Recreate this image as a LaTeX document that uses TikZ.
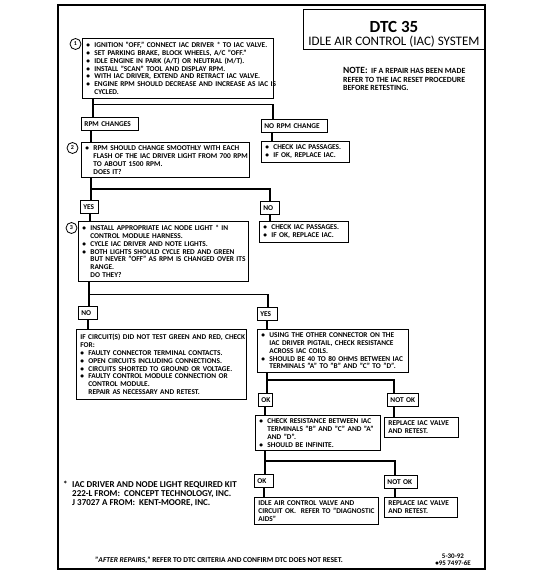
\documentclass[tikz,border=0pt]{standalone}
\usepackage{fontspec}
\setmainfont{Carlito}
\newcommand{\blt}{\makebox[8pt][l]{\textbullet}}
\newcommand{\hng}{\hspace*{8pt}}
\newcommand{\kitmark}{\raisebox{0.5pt}{*}}

\begin{document}
\begin{tikzpicture}[x=1pt, y=-1pt,
    every node/.style={font=\bfseries\fontsize{7.35}{7.8}\selectfont},
    stepbox/.style={draw, line width=0.8pt, fill=white, anchor=north west,
        inner xsep=4pt, inner ysep=3.5pt, text width=#1, align=left,
        execute at begin node={\rightskip=0pt plus 1fil minus 60pt}},
    tag/.style={draw, line width=0.8pt, fill=white, anchor=north west,
        inner xsep=3pt, inner ysep=0pt, minimum height=13pt, text width=#1, align=left,
        execute at begin node={\rightskip=0pt plus 1fil minus 60pt}},
    num/.style={draw, circle, line width=0.8pt, fill=white, inner sep=0pt,
        minimum size=11pt, font=\bfseries\fontsize{6}{6}\selectfont},
    link/.style={line width=1.8pt}]
    \useasboundingbox (0,0) rectangle (552,577);
    % Frame and title
    \draw[line width=1.1pt] (58,5) rectangle (485,569);
    \draw[line width=0.9pt] (303,9) rectangle (485,49);
    \node[font=\bfseries\fontsize{17}{17}\selectfont] (dtc) at (394,27) {DTC 35};
    \node[font=\fontsize{13}{13}\selectfont] (sys) at (394,42) {IDLE AIR CONTROL (IAC) SYSTEM};
    % Note
    \node[anchor=north west, inner sep=0pt, align=left, font=\bfseries\fontsize{7.9}{8.5}\selectfont] (note) at (343,67.5)
        {{\fontsize{9.5}{9}\selectfont NOTE:}\ \ IF A REPAIR HAS BEEN MADE\\
         REFER TO THE IAC RESET PROCEDURE\\
         BEFORE RETESTING.};
    % Step 1
    \node[stepbox=183] (s1) at (82,38)
        {\blt IGNITION "OFF," CONNECT IAC DRIVER \kitmark\ TO IAC VALVE.\\
         \blt SET PARKING BRAKE, BLOCK WHEELS, A/C "OFF."\\
         \blt IDLE ENGINE IN PARK (A/T) OR NEUTRAL (M/T).\\
         \blt INSTALL "SCAN" TOOL AND DISPLAY RPM.\\
         \blt WITH IAC DRIVER, EXTEND AND RETRACT IAC VALVE.\\
         \blt ENGINE RPM SHOULD DECREASE AND INCREASE AS IAC IS\\
         \hng CYCLED.};
    \node[num] (n1) at (75.5,44) {1};
    \node[tag=51] (rpmch) at (81,117) {RPM CHANGES};
    \node[tag=60] (norpm) at (261,119) {NO RPM CHANGE};
    % Step 2
    \node[stepbox=160] (s2) at (81,142)
        {\blt RPM SHOULD CHANGE SMOOTHLY WITH EACH\\
         \hng FLASH OF THE IAC DRIVER LIGHT FROM 700 RPM\\
         \hng TO ABOUT 1500 RPM.\\
         \hng DOES IT?};
    \node[num] (n2) at (72.5,148) {2};
    \node[stepbox=80] (pass1) at (261,141)
        {\blt CHECK IAC PASSAGES.\\
         \blt IF OK, REPLACE IAC.};
    \node[tag=12] (yes1) at (80,200) {YES};
    \node[tag=13] (no1) at (260,201) {NO};
    % Step 3
    \node[stepbox=162] (s3) at (78,221)
        {\blt INSTALL APPROPRIATE IAC NODE LIGHT \kitmark\ IN\\
         \hng CONTROL MODULE HARNESS.\\
         \blt CYCLE IAC DRIVER AND NOTE LIGHTS.\\
         \blt BOTH LIGHTS SHOULD CYCLE RED AND GREEN\\
         \hng BUT NEVER "OFF" AS RPM IS CHANGED OVER ITS\\
         \hng RANGE.\\
         \hng DO THEY?};
    \node[num] (n3) at (71.5,228) {3};
    \node[stepbox=81] (pass2) at (259,221)
        {\blt CHECK IAC PASSAGES.\\
         \blt IF OK, REPLACE IAC.};
    \node[tag=13] (no2) at (78,306) {NO};
    \node[tag=14] (yes2) at (257,307) {YES};
    \node[stepbox=162, inner ysep=5pt] (fail) at (76,329)
        {IF CIRCUIT(S) DID NOT TEST GREEN AND RED, CHECK\\
         FOR:\\
         \blt FAULTY CONNECTOR TERMINAL CONTACTS.\\
         \blt OPEN CIRCUITS INCLUDING CONNECTIONS.\\
         \blt CIRCUITS SHORTED TO GROUND OR VOLTAGE.\\
         \blt FAULTY CONTROL MODULE CONNECTION OR\\
         \hng CONTROL MODULE.\\
         \hng REPAIR AS NECESSARY AND RETEST.};
    \node[stepbox=143] (coils) at (257,329)
        {\blt USING THE OTHER CONNECTOR ON THE\\
         \hng IAC DRIVER PIGTAIL, CHECK RESISTANCE\\
         \hng ACROSS IAC COILS.\\
         \blt SHOULD BE 40 TO 80 OHMS BETWEEN IAC\\
         \hng TERMINALS "A" TO "B" AND "C" TO "D".};
    \node[tag=8] (ok1) at (258,393) {OK};
    \node[tag=25] (notok1) at (387,393) {NOT OK};
    \node[stepbox=117] (infin) at (255,415)
        {\blt CHECK RESISTANCE BETWEEN IAC\\
         \hng TERMINALS "B" AND "C" AND "A"\\
         \hng AND "D".\\
         \blt SHOULD BE INFINITE.};
    \node[stepbox=66] (repl1) at (384,417)
        {REPLACE IAC VALVE\\ AND RETEST.};
    \node[tag=13] (ok2) at (254,474) {OK};
    \node[tag=27] (notok2) at (384,475) {NOT OK};
    \node[stepbox=116] (idle) at (254,497)
        {IDLE AIR CONTROL VALVE AND\\
         CIRCUIT OK.\ \ REFER TO "DIAGNOSTIC\\
         AIDS"};
    \node[stepbox=65] (repl2) at (384,497)
        {REPLACE IAC VALVE\\ AND RETEST.};
    % Connectors
    \coordinate (j1) at ([xshift=11pt, yshift=-6pt]s1.south west);
    \draw[link] ([xshift=11pt]s1.south west) -- ([xshift=11pt]s1.south west |- rpmch.north);
    \draw[link] (j1) -| ([xshift=12pt]norpm.north west);
    \draw[link] ([xshift=10pt]rpmch.south west) -- ([xshift=10pt]rpmch.south west |- s2.north);
    \draw[link] ([xshift=11pt]norpm.south west) -- ([xshift=11pt]norpm.south west |- pass1.north);
    \coordinate (j2) at ([xshift=10pt, yshift=-11pt]s2.south west);
    \draw[link] ([xshift=10pt]s2.south west) -- ([xshift=10pt]s2.south west |- yes1.north);
    \draw[link] (j2) -| ([xshift=10pt]no1.north west);
    \draw[link] ([xshift=10pt]yes1.south west) -- ([xshift=10pt]yes1.south west |- s3.north);
    \draw[link] ([xshift=10pt]no1.south west) -- ([xshift=10pt]no1.south west |- pass2.north);
    \coordinate (j3) at ([xshift=11pt, yshift=-13pt]s3.south west);
    \draw[link] ([xshift=11pt]s3.south west) -- ([xshift=11pt]s3.south west |- no2.north);
    \draw[link] (j3) -| ([xshift=11pt]yes2.north west);
    \draw[link] ([xshift=10pt]no2.south west) -- ([xshift=10pt]no2.south west |- fail.north);
    \draw[link] ([xshift=10pt]yes2.south west) -- ([xshift=10pt]yes2.south west |- coils.north);
    \coordinate (j4) at ([xshift=10pt, yshift=-7pt]coils.south west);
    \draw[link] ([xshift=10pt]coils.south west) -- ([xshift=10pt]coils.south west |- ok1.north);
    \draw[link] (j4) -| ([xshift=7pt]notok1.north west);
    \draw[link] ([xshift=7pt]ok1.south west) -- ([xshift=7pt]ok1.south west |- infin.north);
    \draw[link] ([xshift=7pt]notok1.south west) -- ([xshift=7pt]notok1.south west |- repl1.north);
    \coordinate (j5) at ([xshift=10pt, yshift=-10pt]infin.south west);
    \draw[link] ([xshift=10pt]infin.south west) -- ([xshift=10pt]infin.south west |- ok2.north);
    \draw[link] (j5) -| ([xshift=11pt]notok2.north west);
    \draw[link] ([xshift=10pt]ok2.south west) -- ([xshift=10pt]ok2.south west |- idle.north);
    \draw[link] ([xshift=11pt]notok2.south west) -- ([xshift=11pt]notok2.south west |- repl2.north);
    % Footnotes
    \node[anchor=north west, inner sep=0pt, align=left, font=\bfseries\fontsize{9}{9}\selectfont] (kit) at (63,481)
        {\makebox[9pt][l]{*}IAC DRIVER AND NODE LIGHT REQUIRED KIT\\
         \hspace*{9pt}222-L FROM:\ \ CONCEPT TECHNOLOGY, INC.\\
         \hspace*{9pt}J 37027 A FROM:\ \ KENT-MOORE, INC.};
    \node[anchor=base west, inner sep=0pt, font=\bfseries\fontsize{7.5}{8}\selectfont] (after) at (95,562)
        {"\textit{AFTER REPAIRS,}" REFER TO DTC CRITERIA AND CONFIRM DTC DOES NOT RESET.};
    \node[align=center, inner sep=0pt, font=\bfseries\fontsize{7}{7}\selectfont] (date) at (453,560)
        {5-30-92\\ \textbullet 95 7497-6E};
\end{tikzpicture}
\end{document}
